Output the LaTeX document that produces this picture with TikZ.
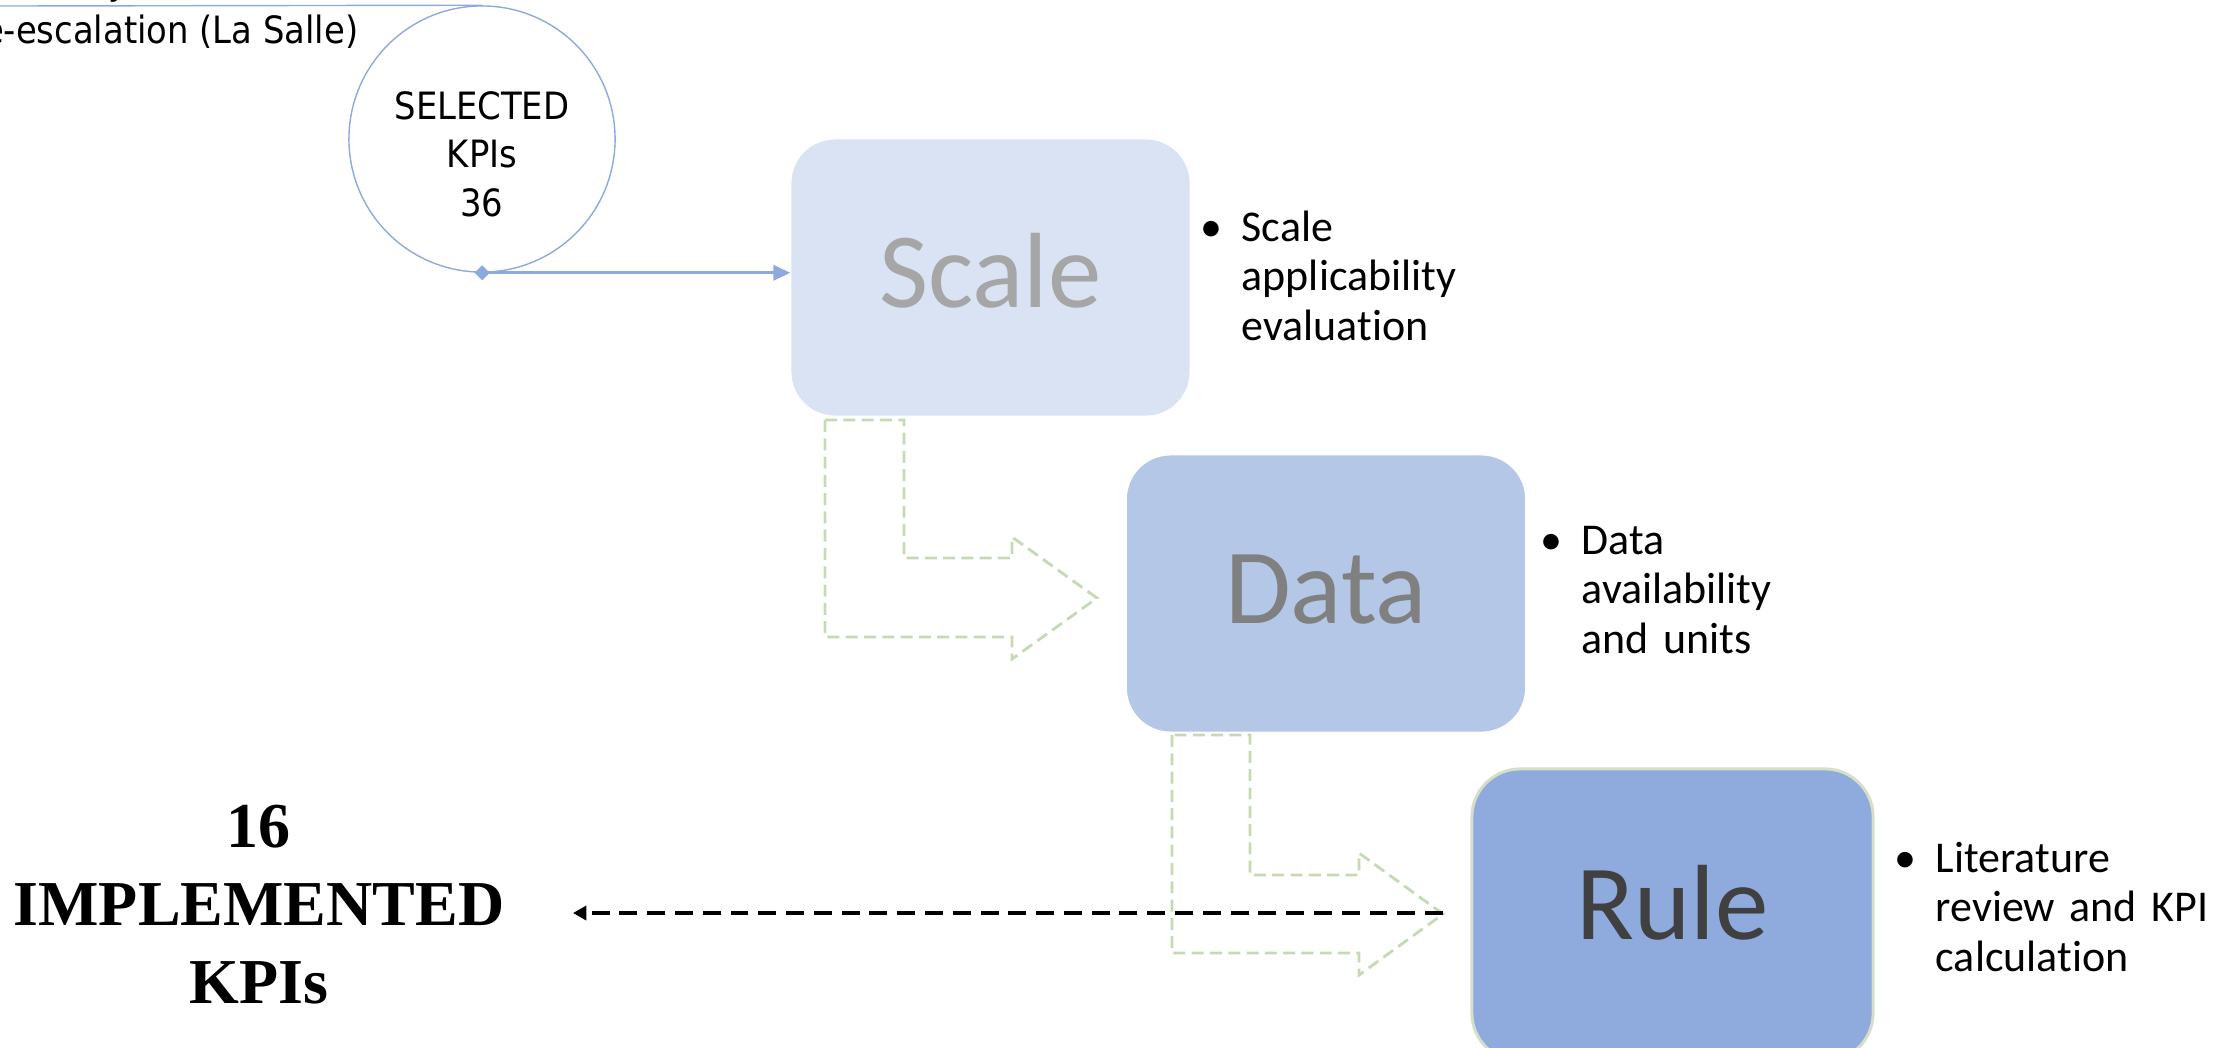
\documentclass[tikz,border=0pt]{standalone}
\usepackage{fontspec}
\setmainfont{Carlito}[Ligatures=CommonOff]
\newfontfamily\labelfont{DejaVu Sans Condensed}
\newfontfamily\headfont{Liberation Serif}
\usetikzlibrary{arrows.meta}

\definecolor{scalefill}{HTML}{DAE3F3}
\definecolor{datafill}{HTML}{B4C7E7}
\definecolor{rulefill}{HTML}{8FAADC}
\definecolor{ruleedge}{HTML}{D5DEC8}
\definecolor{linkblue}{HTML}{8EA9DB}
\definecolor{flowgreen}{HTML}{C5D9B3}
\definecolor{scaletext}{HTML}{A6A6A6}
\definecolor{datatext}{HTML}{808080}
\definecolor{ruletext}{HTML}{404040}

\tikzset{
  stagebox/.style={rounded corners=0.44cm, minimum width=3.99cm, minimum height=2.77cm,
    inner sep=0pt, text height=0.59cm, text depth=0cm,
    font=\fontsize{30.4}{36}\selectfont},
  bullets/.style={anchor=base west, inner sep=0pt, text width=4cm, align=left,
    font=\fontsize{12.5}{14.2}\selectfont},
  flowarrow/.style={draw=flowgreen, line width=0.8pt, dash pattern=on 3.4pt off 1.8pt},
  kpilabel/.style={inner sep=0pt, font=\labelfont\fontsize{10.7}{13.8}\selectfont},
}

\newcommand{\bul}{\llap{\textbullet\hspace{5.5pt}}}

\begin{document}
\begin{tikzpicture}[x=0.01cm, y=-0.01cm]
\useasboundingbox (0,0) rectangle (2228,1047);

% dashed hollow bent arrows between the stages
\draw[flowarrow] (825,420) -- (825,637) -- (1012,637) -- (1012,659) -- (1097,598)
  -- (1012,537) -- (1012,558) -- (904,558) -- (904,420) -- cycle;
\draw[flowarrow] (1172,735) -- (1172,953) -- (1359,953) -- (1359,975) -- (1443,914)
  -- (1359,853) -- (1359,875) -- (1250,875) -- (1250,735) -- cycle;
\coordinate (tip2) at (1443,913);

% stage boxes
\node[stagebox, fill=scalefill, draw=white, line width=0.3pt, text=scaletext]
  (scale) at (990.5,277.5) {Scale};
\node[stagebox, fill=datafill, draw=white, line width=0.3pt, text=datatext]
  (data) at (1326,593.5) {Data};
\node[stagebox, fill=rulefill, draw=ruleedge, line width=0.85pt, text=ruletext,
  minimum width=4.01cm, minimum height=2.92cm, rounded corners=0.48cm,
  text height=0.48cm]
  (rule) at (1672.5,915) {Rule};

% stage descriptions
\node[bullets] (scaledesc) at (1241,241) {\bul Scale\\applicability\\evaluation};
\node[bullets] (datadesc) at (1581,554) {\bul Data\\availability\\and units};
\node[bullets] (ruledesc) at (1935,872) {\bul Literature\\review and KPI\\calculation};

% selected KPI circle and incoming line
\node[circle, draw=linkblue, line width=0.4pt, minimum size=2.66cm, inner sep=0pt]
  (sel) at (482,139) {};
\node[kpilabel, anchor=base, text width=2cm, align=center]
  (seltext) at (482,119) {SELECTED\\KPIs\\36};
\node[kpilabel, anchor=base east] (source) at (359,43) {De-escalation (La Salle)};
\node[kpilabel, anchor=base] (above) at (119,-6) {y};
\coordinate (lineleft) at (0,6);
\draw[linkblue, line width=0.4pt] (lineleft) -- (sel.north);

% link from the circle to the first stage
\draw[linkblue, line width=0.77pt, shorten <=-2.1pt,
  {Diamond[length=4.3pt, width=4.3pt]}-{Triangle[length=4.8pt, width=4.3pt]}]
  (sel.south) -- (sel.south -| scale.west);

% result
\node[anchor=base, inner sep=0pt, text width=6cm, align=center,
  font=\headfont\bfseries\fontsize{18.2}{22.2}\selectfont]
  (impl) at (259,847) {16\\IMPLEMENTED\\KPIs};
\coordinate (implin) at (573,913);
\draw[black, line width=1.1pt, dash pattern=on 5.1pt off 2.8pt,
  -{Triangle[length=3.8pt, width=4pt]}] (tip2) -- (implin);
\end{tikzpicture}
\end{document}
